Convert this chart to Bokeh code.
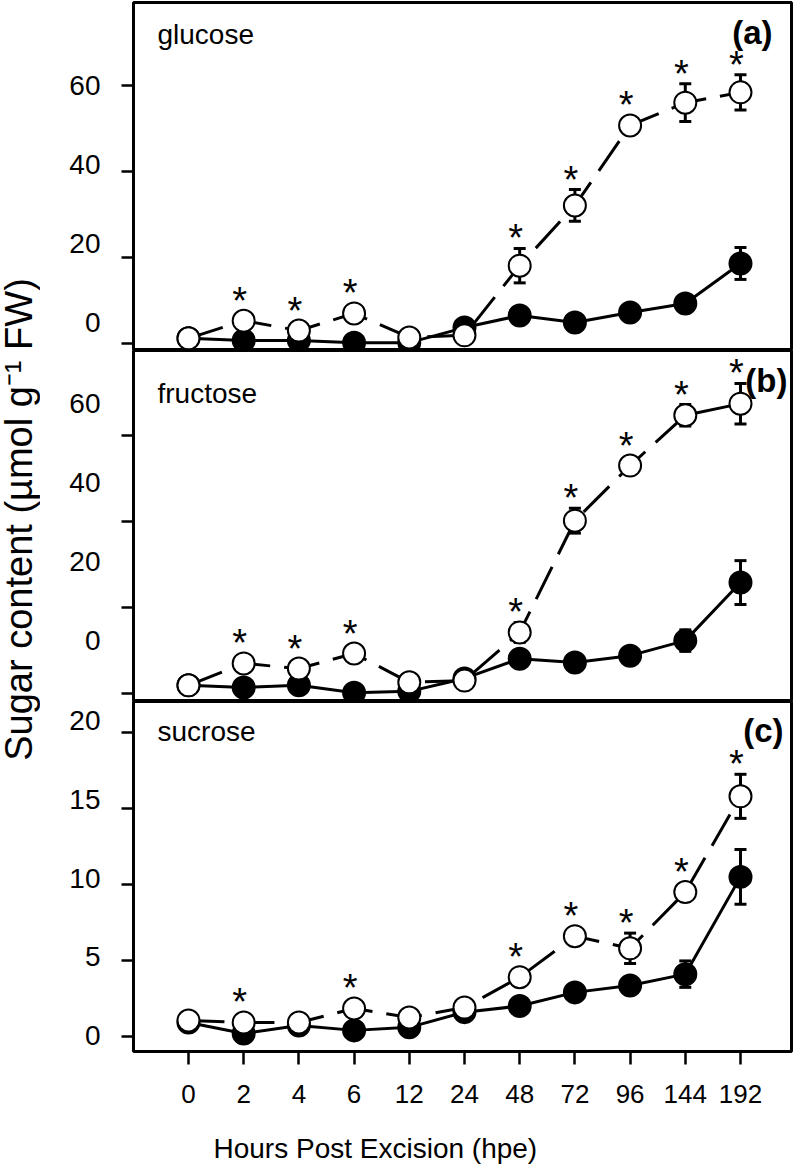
import math
from bokeh.plotting import figure
from bokeh.models import (Range1d, FixedTicker, LinearAxis, Whisker, ColumnDataSource,
                          Label, TeeHead, Title)
from bokeh.layouts import row, column
from bokeh.embed import file_html
from bokeh.resources import INLINE
from bokeh.core.properties import value

# ---------------- data ----------------
hours = ["0", "2", "4", "6", "12", "24", "48", "72", "96", "144", "192"]

glucose_open = [1.2, 5.3, 3.0, 7.0, 1.4, 1.9, 18.1, 32.1, 50.7, 56.0, 58.4]
glucose_open_err = [0.3, 0.5, 0.4, 0.5, 0.3, 0.3, 4.0, 3.7, 0.6, 4.4, 4.1]
glucose_filled = [1.2, 0.7, 0.7, 0.2, 0.2, 3.7, 6.5, 4.9, 7.2, 9.3, 18.6]
glucose_filled_err = [0.2, 0.2, 0.2, 0.2, 0.2, 0.4, 0.6, 0.5, 0.6, 1.2, 3.7]
glucose_sig = [0, 1, 1, 1, 0, 0, 1, 1, 1, 1, 1]

fructose_open = [1.9, 7.0, 5.8, 9.3, 2.6, 3.0, 14.2, 40.2, 53.0, 64.7, 67.4]
fructose_open_err = [0.3, 0.5, 0.5, 0.5, 0.3, 0.3, 2.3, 2.9, 0.5, 2.5, 4.7]
fructose_filled = [1.9, 1.4, 1.9, 0.2, 0.5, 3.5, 8.1, 7.2, 8.8, 12.3, 25.8]
fructose_filled_err = [0.2, 0.2, 0.2, 0.2, 0.2, 0.4, 0.6, 0.5, 0.6, 2.5, 5.1]
fructose_sig = [0, 1, 1, 1, 0, 0, 1, 1, 1, 1, 1]

sucrose_open = [1.05, 0.92, 0.92, 1.84, 1.25, 1.9, 3.9, 6.6, 5.8, 9.5, 15.8]
sucrose_open_err = [0.1, 0.1, 0.1, 0.2, 0.1, 0.1, 0.3, 0.2, 1.0, 0.2, 1.45]
sucrose_filled = [0.92, 0.2, 0.72, 0.4, 0.6, 1.6, 2.0, 2.9, 3.35, 4.1, 10.5]
sucrose_filled_err = [0.1, 0.1, 0.1, 0.1, 0.1, 0.1, 0.2, 0.2, 0.3, 0.87, 1.8]
sucrose_sig = [0, 1, 0, 1, 0, 0, 1, 1, 1, 1, 1]

glucose_ticks = [0, 20, 40, 60]
fructose_ticks = [0, 20, 40, 60]
sucrose_ticks = [0, 5, 10, 15, 20]

FONT = "Liberation Sans"
FRAME_W = 658
LEFT = 93
X_RANGE = (-0.996, 10.924)


def make_panel(name, tag, o, oe, f, fe, sig, ticks, yr, lab_yr, frame_h,
               name_y, tag_x, tag_y, bottom=False, top_border=0):
    p = figure(frame_width=FRAME_W, frame_height=frame_h,
               x_range=Range1d(*X_RANGE), y_range=Range1d(*yr),
               toolbar_location=None, output_backend="svg",
               x_axis_location="below" if bottom else None,
               min_border_left=LEFT, min_border_right=3,
               min_border_top=top_border, min_border_bottom=112 if bottom else 0,
               background_fill_color="white", border_fill_color="white")
    p.grid.visible = False
    p.outline_line_color = "black"
    p.outline_line_width = 3

    xs = list(range(len(hours)))
    ppu = frame_h / (yr[1] - yr[0])

    # main y axis: tick marks at the true values
    ya = p.yaxis[0]
    ya.ticker = FixedTicker(ticks=ticks)
    ya.major_label_overrides = {t: "" for t in ticks}
    ya.major_label_standoff = 0
    ya.major_tick_out = 12
    ya.major_tick_in = 0
    ya.minor_tick_out = 0
    ya.minor_tick_in = 0
    ya.major_tick_line_width = 2.5
    ya.axis_line_color = None

    # label axis (tick labels as printed in the original)
    p.extra_y_ranges = {"lab": Range1d(*lab_yr)}
    la = LinearAxis(y_range_name="lab", ticker=FixedTicker(ticks=ticks),
                    major_tick_out=0, major_tick_in=0, minor_tick_out=0, minor_tick_in=0,
                    major_tick_line_color=None, minor_tick_line_color=None,
                    axis_line_color=None, major_label_standoff=21,
                    major_label_text_font=FONT, major_label_text_font_size="28px",
                    major_label_text_color="black")
    p.add_layout(la, "left")

    if bottom:
        xa = p.xaxis[0]
        xa.ticker = FixedTicker(ticks=xs)
        xa.major_label_overrides = {i: h for i, h in zip(xs, hours)}
        xa.major_tick_out = 13
        xa.major_tick_in = 0
        xa.minor_tick_out = 0
        xa.minor_tick_in = 0
        xa.major_tick_line_width = 2.5
        xa.axis_line_color = None
        xa.major_label_standoff = 20
        xa.major_label_text_font = FONT
        xa.major_label_text_font_size = "26px"
        xa.major_label_text_color = "black"
        p.add_layout(Title(text="Hours Post Excision (hpe)", align="left", offset=80,
                           text_font=FONT, text_font_size="28px",
                           text_font_style="normal", text_color="black", standoff=50),
                     "below")

    src_f = ColumnDataSource(dict(x=xs, y=f, lo=[a - b for a, b in zip(f, fe)],
                                  hi=[a + b for a, b in zip(f, fe)]))
    src_o = ColumnDataSource(dict(x=xs, y=o, lo=[a - b for a, b in zip(o, oe)],
                                  hi=[a + b for a, b in zip(o, oe)]))

    for src in (src_f, src_o):
        w = Whisker(source=src, base="x", upper="hi", lower="lo",
                    line_width=3, line_color="black",
                    upper_head=TeeHead(size=12, line_width=3, line_color="black"),
                    lower_head=TeeHead(size=12, line_width=3, line_color="black"))
        p.add_layout(w)

    p.line("x", "y", source=src_f, line_color="black", line_width=3)
    p.scatter("x", "y", source=src_f, size=22, fill_color="black", line_color="black",
              line_width=2)
    p.line("x", "y", source=src_o, line_color="black", line_width=3, line_dash="36 14")
    p.scatter("x", "y", source=src_o, size=22, fill_color="white", line_color="black",
              line_width=2)

    # significance asterisks above the open-symbol series
    sx, sy, soff = [], [], []
    for x, m, e, s in zip(xs, o, oe, sig):
        if s:
            d = max(e * ppu + 17, 27)
            sx.append(x)
            sy.append(m)
            soff.append(-(d - 7))
    ast = ColumnDataSource(dict(x=sx, y=sy, off=soff, t=["*"] * len(sx)))
    p.text(x="x", y="y", text="t", source=ast, text_font=value(FONT),
           text_font_size="38px", text_align="center", text_baseline="middle",
           x_offset=-4, y_offset="off", text_color="black")

    p.add_layout(Label(x=24, y=name_y, x_units="screen", y_units="screen", text=name,
                       text_font=FONT, text_font_size="28px", text_align="left",
                       text_baseline="alphabetic", text_color="black"))
    p.add_layout(Label(x=tag_x, y=tag_y, x_units="screen", y_units="screen", text=tag,
                       text_font=FONT, text_font_size="33px", text_font_style="bold",
                       text_align="right", text_baseline="middle", text_color="black"))
    return p


pa = make_panel("glucose", "(a)", glucose_open, glucose_open_err, glucose_filled,
                glucose_filled_err, glucose_sig, glucose_ticks,
                (-1.63, 79.30), (-7.09, 81.01), 348, 316, 639, 318, top_border=2)
pb = make_panel("fructose", "(b)", fructose_open, fructose_open_err, fructose_filled,
                fructose_filled_err, fructose_sig, fructose_ticks,
                (-1.86, 79.77), (-15.44, 73.42), 351, 308, 654, 321)
pc = make_panel("sucrose", "(c)", sucrose_open, sucrose_open_err, sucrose_filled,
                sucrose_filled_err, sucrose_sig, sucrose_ticks,
                (-0.99, 22.04), (-1.016, 21.21), 350, 320, 650, 321, bottom=True)

ylab = figure(width=40, height=1163, x_range=Range1d(0, 1), y_range=Range1d(0, 1),
              toolbar_location=None, output_backend="svg", min_border=0,
              x_axis_location=None, y_axis_location=None,
              background_fill_color="white", border_fill_color="white")
ylab.grid.visible = False
ylab.outline_line_color = None
ylab.add_layout(Label(x=18, y=644, x_units="screen", y_units="screen",
                      text="Sugar content (\u00b5mol g\u207b\u00b9 FW)", angle=math.pi / 2,
                      text_font=FONT, text_font_size="38px", text_align="center",
                      text_baseline="alphabetic", text_color="black"))

layout = row(ylab, column(pa, pb, pc, spacing=0), spacing=0)
open("out.html", "w").write(file_html(layout, INLINE))
